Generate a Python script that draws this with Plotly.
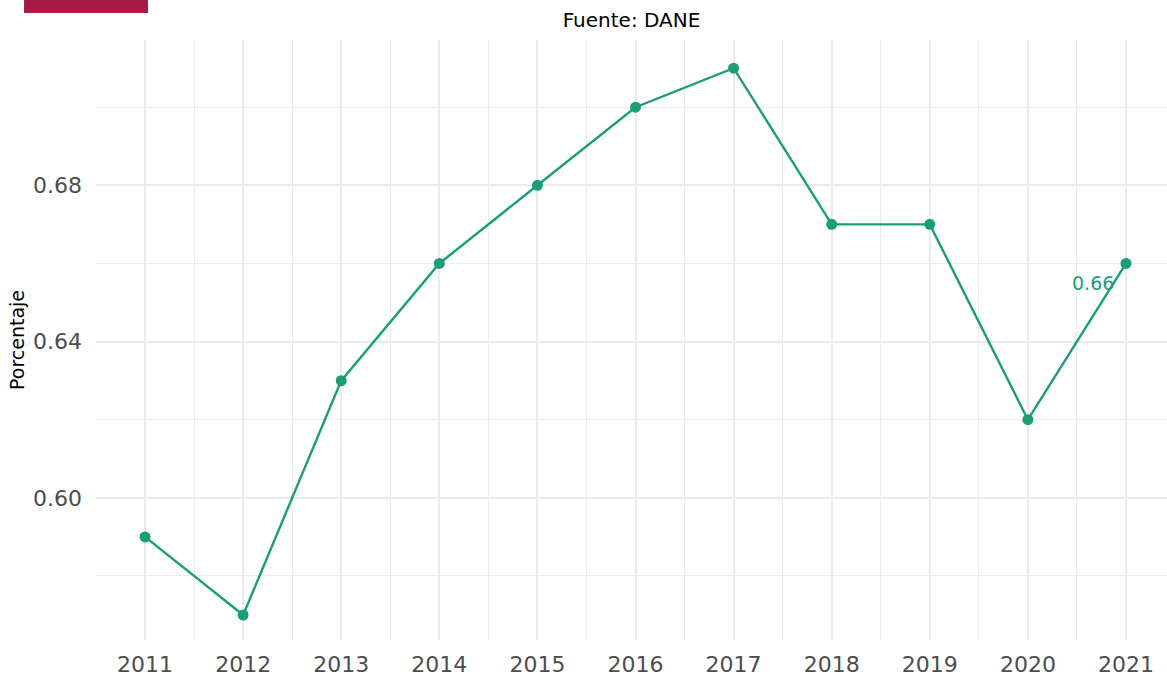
import plotly.graph_objects as go

years = [2011, 2012, 2013, 2014, 2015, 2016, 2017, 2018, 2019, 2020, 2021]
values = [0.59, 0.57, 0.63, 0.66, 0.68, 0.70, 0.71, 0.67, 0.67, 0.62, 0.66]
y_ticks = [0.60, 0.64, 0.68]
y_minor = [0.58, 0.62, 0.66, 0.70]

LINE_COLOR = "#1b9e77"
GRID = "#ebebeb"
FONT = "DejaVu Sans"

fig = go.Figure()
fig.add_trace(go.Scatter(
    x=years, y=values, mode="lines+markers",
    line={"color": LINE_COLOR, "width": 2.4},
    marker={"color": LINE_COLOR, "size": 11},
    showlegend=False,
))

fig.add_annotation(
    x=years[-1], y=values[-1], text=f"{values[-1]:.2f}", showarrow=False,
    xanchor="right", yanchor="middle", xshift=-10, yshift=-20,
    font={"color": LINE_COLOR, "size": 19, "family": FONT},
)

# red bar at the top-left corner
fig.add_shape(type="rect", xref="paper", yref="paper",
              x0=-0.0672, x1=0.0486, y0=1.045, y1=1.07,
              fillcolor="#a51c45", line_width=0, layer="above")

fig.update_layout(
    width=1167, height=677,
    paper_bgcolor="white", plot_bgcolor="white",
    font={"family": FONT, "color": "#000000"},
    margin={"l": 96, "r": 0, "t": 40, "b": 37},
    title={"text": "Fuente: DANE", "x": 0.5, "xanchor": "center", "xref": "paper",
           "y": 1 - 20 / 677, "yanchor": "middle", "font": {"size": 20, "color": "#000000"}},
    showlegend=False,
)
fig.update_xaxes(
    range=[2010.5, 2021.418], tickvals=years, ticktext=[str(y) for y in years],
    showgrid=True, gridcolor=GRID, gridwidth=2, zeroline=False, showline=False,
    ticks="", tickfont={"size": 22, "color": "#4d4d4d"}, ticklabelstandoff=9,
    minor={"tickvals": [y + 0.5 for y in years[:-1]] + [2010.5], "showgrid": True,
           "gridcolor": GRID, "gridwidth": 1},
)
fig.update_yaxes(
    range=[0.5636, 0.7172], tickvals=y_ticks, ticktext=[f"{v:.2f}" for v in y_ticks],
    showgrid=True, gridcolor=GRID, gridwidth=2, zeroline=False, showline=False,
    ticks="", tickfont={"size": 22, "color": "#4d4d4d"}, ticklabelstandoff=13,
    title={"text": "Porcentaje", "font": {"size": 19, "color": "#000000"}, "standoff": 3},
    minor={"tickvals": y_minor, "showgrid": True, "gridcolor": GRID, "gridwidth": 1},
)

fig.write_html("out.html", config={"displayModeBar": False},
               post_script="document.body.style.margin = '0';")
